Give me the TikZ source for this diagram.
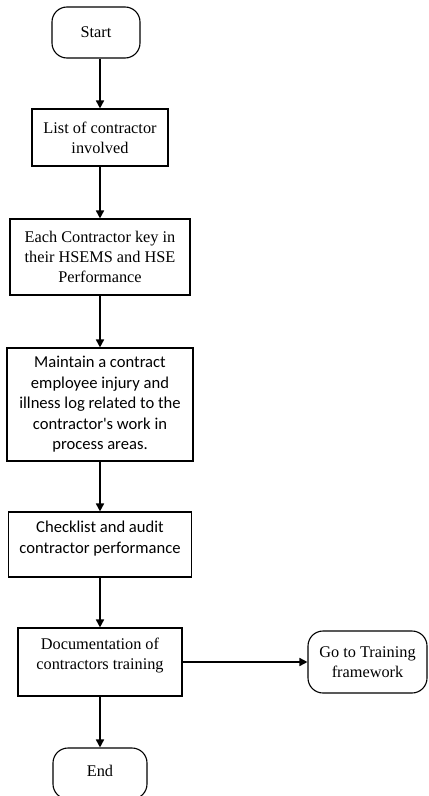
\documentclass[tikz,border=0pt]{standalone}
\usepackage{fontspec}
\setmainfont{Liberation Serif}
\newfontfamily\stepsans{Carlito}
\usetikzlibrary{arrows.meta}

\begin{document}
\begin{tikzpicture}[x=1bp,y=-1bp,
  every node/.style={inner sep=0pt, align=center,
    font=\fontsize{16.3bp}{20bp}\selectfont},
  procbox/.style={draw, line width=1.1bp, rectangle},
  terminal/.style={draw, line width=1.1bp, rectangle, rounded corners=15bp},
  sanstext/.style={font=\stepsans\fontsize{16.6bp}{20.5bp}\selectfont},
  flow/.style={line width=1.6bp, -{Triangle[width=8bp,length=8bp]}}
]
\clip (0,0) rectangle (428,796);
\fill[white] (0,0) rectangle (428,796);

% terminals
\node[terminal, minimum width=88bp, minimum height=51bp] (start) at (96,32.5) {Start};
\node[terminal, minimum width=94bp, minimum height=51bp] (finish) at (100,773.5) {\raisebox{5bp}{End}};
\node[terminal, minimum width=119bp, minimum height=62bp] (train) at (367.5,662)
  {Go to Training\\framework};

% process steps
\node[procbox, minimum width=136bp, minimum height=57bp] (b2) at (100,137.5)
  {List of contractor\\involved};
\node[procbox, minimum width=180bp, minimum height=76bp] (b3) at (100,257)
  {Each Contractor key in\\their HSEMS and HSE\\Performance};
\node[procbox, sanstext, minimum width=186bp, minimum height=113bp] (b4) at (100,404.5)
  {Maintain a contract\\employee injury and\\illness log related to the\\contractor's work in\\process areas.};
\node[procbox, minimum width=183bp, minimum height=65bp] (b5) at (100,544.5) {};
\node[sanstext] (b5txt) at (100,538.5) {Checklist and audit\\contractor performance};
\node[procbox, minimum width=164bp, minimum height=68bp] (b6) at (100,662) {};
\node (b6txt) at (100,656) {Documentation of\\contractors training};

% connectors
\draw[flow] (b2.north |- start.south) -- (b2.north);
\draw[flow] (b2.south) -- (b3.north);
\draw[flow] (b3.south) -- (b4.north);
\draw[flow] (b4.south) -- (b5.north);
\draw[flow] (b5.south) -- (b6.north);
\draw[flow] (b6.south) -- (finish.north);
\draw[flow] (b6.east) -- (train.west);
\end{tikzpicture}
\end{document}
